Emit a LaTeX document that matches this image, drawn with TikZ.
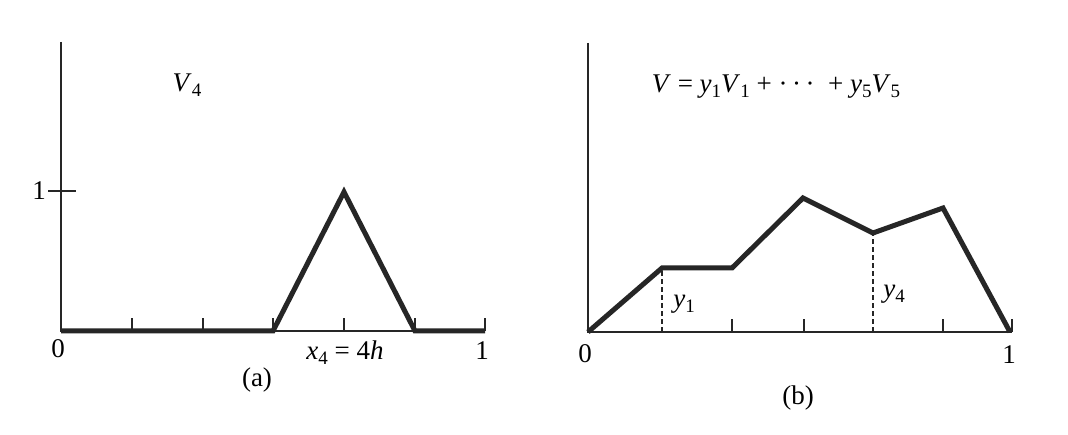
\documentclass[tikz,border=0pt]{standalone}
\usepackage{fontspec}
\setmainfont{Liberation Serif}
\newcommand\sbs[1]{\raisebox{-0.4ex}{\fontsize{19}{20}\selectfont #1}}
\newcommand\cdt{\textperiodcentered}
\begin{document}
\begin{tikzpicture}[x=1pt,y=-1pt,
  axis/.style={line width=1.8pt,draw=black!85},
  curve/.style={line width=5pt,draw=black!85,line join=miter,line cap=butt},
  tk/.style={line width=1.8pt,draw=black!85},
  dsh/.style={line width=1.4pt,draw=black!85,dash pattern=on 5pt off 3pt},
  lbl/.style={inner sep=0pt,font=\fontsize{27}{30}\selectfont}]
\useasboundingbox[fill=white] (0,0) rectangle (1068,435);
% ---------- panel (a) ----------
\coordinate (aO) at (61,331);
\coordinate (aT) at (61,42);
\coordinate (aE) at (485,331);
\draw[axis] (aT) -- (aO) -- (aE);
\foreach \xx in {132,203,273,344,415,485}
  \draw[tk] (\xx,331) -- (\xx,318);
\coordinate (oneL) at (48,191);
\coordinate (oneR) at (76,191);
\draw[tk] (oneL) -- (oneR);
\coordinate (a0) at (61,331);
\coordinate (a3) at (273,331);
\coordinate (a4) at (344,192);
\coordinate (a5) at (415,331);
\coordinate (a6) at (485,331);
\draw[curve] (a0) -- (a3) -- (a4) -- (a5) -- (a6);
\node[lbl] (V4) at (187,85) {\textit{V}\sbs{4}};
\node[lbl,anchor=east] (one) at (46,191) {1};
\node[lbl] (za) at (58,349) {0};
\node[lbl] (x4) at (345,353) {\textit{x}\sbs{4} = 4\textit{h}};
\node[lbl] (ua) at (482,351) {1};
\node[lbl] (capa) at (257,380) {(a)};
% ---------- panel (b) ----------
\coordinate (bO) at (588,332);
\coordinate (bT) at (588,43);
\coordinate (bE) at (1012,332);
\draw[axis] (bT) -- (bO) -- (bE);
\foreach \xx in {732,804,943,1012}
  \draw[tk] (\xx,332) -- (\xx,319);
\coordinate (b0) at (588,332);
\coordinate (b1) at (662,268);
\coordinate (b2) at (732,268);
\coordinate (b3) at (803,198);
\coordinate (b4) at (873,233);
\coordinate (b5) at (943,208);
\coordinate (b6) at (1010,332);
\coordinate (b1x) at (662,332);
\coordinate (b4x) at (873,332);
\draw[dsh] (b1x) -- (b1);
\draw[dsh] (b4x) -- (b4);
\draw[curve] (b0) -- (b1) -- (b2) -- (b3) -- (b4) -- (b5) -- (b6);
\node[lbl] (y1) at (684,304) {\textit{y}\sbs{1}};
\node[lbl] (y4) at (894,294) {\textit{y}\sbs{4}};
\node[lbl] (form) at (776,87) {\textit{V} = \textit{y}\sbs{1}\textit{V}\sbs{1} + \cdt\,\cdt\,\cdt\ \ + \textit{y}\sbs{5}\textit{V}\sbs{5}};
\node[lbl] (zb) at (585,354) {0};
\node[lbl] (ub) at (1009,355) {1};
\node[lbl] (capb) at (798,398) {(b)};
\end{tikzpicture}
\end{document}
